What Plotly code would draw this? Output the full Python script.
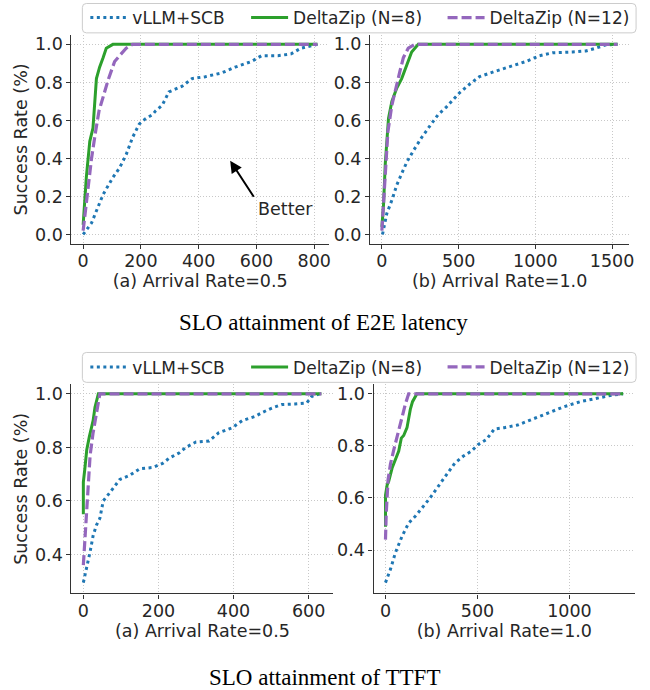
import plotly.graph_objects as go

# ---------------- data ----------------
series_names = ["vLLM+SCB", "DeltaZip (N=8)", "DeltaZip (N=12)"]

# (a) E2E latency, arrival rate 0.5
e2e_a_vllm_x = [0, 29, 69, 103, 126, 149, 171, 194, 217, 240, 251, 274, 297, 343, 377, 423, 480, 526, 583, 617, 674, 720, 754, 811]
e2e_a_vllm_y = [0.0, 0.06, 0.21, 0.30, 0.35, 0.42, 0.51, 0.58, 0.61, 0.63, 0.65, 0.68, 0.75, 0.78, 0.82, 0.83, 0.85, 0.88, 0.91, 0.94, 0.94, 0.95, 0.98, 1.0]
e2e_a_n8_x = [0, 11, 23, 34, 46, 57, 69, 80, 103, 811]
e2e_a_n8_y = [0.05, 0.30, 0.49, 0.56, 0.82, 0.88, 0.93, 0.98, 1.0, 1.0]
e2e_a_n12_x = [0, 17, 29, 43, 55, 86, 109, 126, 149, 171, 811]
e2e_a_n12_y = [0.02, 0.25, 0.40, 0.54, 0.65, 0.81, 0.91, 0.94, 0.98, 1.0, 1.0]

# (b) E2E latency, arrival rate 1.0
e2e_b_vllm_x = [4, 32, 65, 97, 129, 162, 205, 259, 312, 366, 420, 474, 506, 571, 636, 745, 853, 939, 1026, 1113, 1243, 1329, 1394, 1459, 1535]
e2e_b_vllm_y = [0.0, 0.11, 0.18, 0.26, 0.32, 0.38, 0.44, 0.51, 0.57, 0.63, 0.67, 0.72, 0.745, 0.79, 0.83, 0.86, 0.886, 0.91, 0.94, 0.956, 0.96, 0.965, 0.98, 0.997, 1.0]
e2e_b_n8_x = [0, 11, 22, 43, 65, 97, 129, 162, 194, 237, 1535]
e2e_b_n8_y = [0.04, 0.16, 0.37, 0.61, 0.70, 0.77, 0.82, 0.89, 0.96, 1.0, 1.0]
e2e_b_n12_x = [0, 17, 39, 65, 90, 118, 140, 172, 215, 1535]
e2e_b_n12_y = [0.02, 0.28, 0.54, 0.68, 0.77, 0.86, 0.93, 0.98, 1.0, 1.0]

# (a) TTFT, arrival rate 0.5
ttft_a_vllm_x = [0, 9, 18, 26, 35, 44, 53, 70, 97, 123, 150, 185, 211, 229, 256, 273, 300, 335, 361, 396, 423, 458, 476, 502, 529, 564, 595, 608, 630]
ttft_a_vllm_y = [0.295, 0.35, 0.41, 0.47, 0.51, 0.535, 0.60, 0.63, 0.68, 0.695, 0.72, 0.725, 0.74, 0.76, 0.78, 0.80, 0.82, 0.824, 0.855, 0.873, 0.90, 0.916, 0.93, 0.947, 0.96, 0.962, 0.966, 0.99, 1.0]
ttft_a_n8_x = [0, 0, 4, 9, 16, 22, 26, 31, 40, 634]
ttft_a_n8_y = [0.55, 0.67, 0.72, 0.79, 0.84, 0.87, 0.90, 0.95, 1.0, 1.0]
ttft_a_n12_x = [0, 4, 9, 13, 18, 26, 35, 44, 634]
ttft_a_n12_y = [0.36, 0.45, 0.56, 0.68, 0.77, 0.855, 0.93, 1.0, 1.0]

# (b) TTFT, arrival rate 1.0
ttft_b_vllm_x = [0, 27, 54, 90, 126, 162, 197, 242, 287, 332, 377, 422, 467, 503, 548, 592, 646, 718, 790, 880, 969, 1059, 1149, 1239, 1292]
ttft_b_vllm_y = [0.275, 0.326, 0.39, 0.453, 0.504, 0.53, 0.56, 0.60, 0.645, 0.69, 0.734, 0.76, 0.78, 0.805, 0.824, 0.865, 0.87, 0.88, 0.90, 0.926, 0.95, 0.97, 0.983, 0.996, 1.0]
ttft_b_n8_x = [0, 0, 9, 18, 36, 54, 72, 86, 99, 117, 135, 147, 171, 1292]
ttft_b_n8_y = [0.49, 0.61, 0.65, 0.665, 0.715, 0.747, 0.78, 0.83, 0.84, 0.87, 0.94, 0.97, 1.0, 1.0]
ttft_b_n12_x = [0, 4, 14, 27, 45, 63, 90, 108, 126, 1292]
ttft_b_n12_y = [0.44, 0.54, 0.67, 0.73, 0.785, 0.84, 0.91, 0.96, 1.0, 1.0]

x_titles = ["(a) Arrival Rate=0.5", "(b) Arrival Rate=1.0", "(a) Arrival Rate=0.5", "(b) Arrival Rate=1.0"]
y_title = "Success Rate (%)"
captions = ["SLO attainment of E2E latency", "SLO attainment of TTFT"]
x_ticks = [[0, 200, 400, 600, 800], [0, 500, 1000, 1500], [0, 200, 400, 600], [0, 500, 1000]]
y_ticks_top = [0.0, 0.2, 0.4, 0.6, 0.8, 1.0]
y_ticks_bottom = [0.4, 0.6, 0.8, 1.0]
annot_text = "Better"

# ---------------- styling ----------------
W, H = 650, 690
colors = ["#1f77b4", "#2ca02c", "#9467bd"]
dashes = ["3px,3.5px", "solid", "10px,4px"]
widths = [3, 3, 3.2]
TXT = "#262626"
FONT = "DejaVu Sans"
FS = 17.5
GRID = dict(showgrid=True, gridcolor="#c8c8c8", griddash="1px,2px", gridwidth=1)

panels = [
    (e2e_a_vllm_x, e2e_a_vllm_y, e2e_a_n8_x, e2e_a_n8_y, e2e_a_n12_x, e2e_a_n12_y),
    (e2e_b_vllm_x, e2e_b_vllm_y, e2e_b_n8_x, e2e_b_n8_y, e2e_b_n12_x, e2e_b_n12_y),
    (ttft_a_vllm_x, ttft_a_vllm_y, ttft_a_n8_x, ttft_a_n8_y, ttft_a_n12_x, ttft_a_n12_y),
    (ttft_b_vllm_x, ttft_b_vllm_y, ttft_b_n8_x, ttft_b_n8_y, ttft_b_n12_x, ttft_b_n12_y),
]

# pixel boxes of each axes (left, right, top, bottom)
boxes = [(72, 331.5, 33, 243), (373, 634, 33, 243), (72, 336, 384, 594), (376.5, 640, 384, 594)]
x_ranges = [[-40.5, 851], [-76.6, 1611], [-31.7, 666], [-64.6, 1357]]
y_ranges = [[-0.05, 1.05], [-0.05, 1.05], [0.2545, 1.0355], [0.2335, 1.0365]]

# legend entry positions (sample start px) and row centre px
leg_item_x = [92, 254, 452]
leg_row_y = [16, 367]
leg_boxes = [(83, 641, 1.5, 31), (83, 641, 352, 382)]

fig = go.Figure()
for i, p in enumerate(panels):
    xa = "x" if i == 0 else f"x{i+1}"
    ya = "y" if i == 0 else f"y{i+1}"
    for k in range(3):
        xs, ys = p[2 * k], p[2 * k + 1]
        show = i in (0, 2)
        row = 0 if i == 0 else 1
        lid = row * 3 + k + 1
        fig.add_trace(go.Scatter(
            x=xs, y=ys, mode="lines", name=series_names[k],
            line=dict(color=colors[k], width=widths[k], dash=dashes[k]),
            xaxis=xa, yaxis=ya, showlegend=show,
            legend="legend" if lid == 1 else f"legend{lid}",
            hoverinfo="skip",
        ))

layout = dict(
    width=W, height=H, margin=dict(l=0, r=0, t=0, b=0),
    paper_bgcolor="white", plot_bgcolor="white",
    font=dict(family=FONT, size=FS, color=TXT),
)
for i in range(4):
    l, r, t, b = boxes[i]
    xname = "xaxis" if i == 0 else f"xaxis{i+1}"
    yname = "yaxis" if i == 0 else f"yaxis{i+1}"
    ya = "y" if i == 0 else f"y{i+1}"
    xa = "x" if i == 0 else f"x{i+1}"
    layout[xname] = dict(
        domain=[l / W, r / W], range=x_ranges[i], anchor=ya,
        tickvals=x_ticks[i], **GRID,
        showline=True, linecolor="#333333", linewidth=1.3, zeroline=False,
        ticks="outside", ticklen=4, tickcolor="#333333", tickwidth=1.2,
        ticklabelstandoff=-3,
        tickfont=dict(size=FS, color=TXT),
        title=dict(text=x_titles[i], font=dict(size=FS, color=TXT), standoff=1),
    )
    layout[yname] = dict(
        domain=[1 - b / H, 1 - t / H], range=y_ranges[i], anchor=xa,
        tickvals=y_ticks_top if i < 2 else y_ticks_bottom, tickformat=".1f", **GRID,
        showline=True, linecolor="#333333", linewidth=1.3, zeroline=False,
        ticks="outside", ticklen=4, tickcolor="#333333", tickwidth=1.2,
        tickfont=dict(size=FS, color=TXT),
        title=dict(text=y_title if i in (0, 2) else "", font=dict(size=FS, color=TXT), standoff=2),
    )

for row in range(2):
    for k in range(3):
        lid = row * 3 + k + 1
        key = "legend" if lid == 1 else f"legend{lid}"
        layout[key] = dict(
            orientation="h", xref="paper", yref="paper", xanchor="left", yanchor="middle",
            x=(leg_item_x[k] - 6) / W, y=1 - leg_row_y[row] / H,
            bgcolor="rgba(0,0,0,0)", borderwidth=0,
            font=dict(family=FONT, size=17, color=TXT), itemwidth=37,
        )

# legend frames (rounded rectangles, paper coords)
shapes = []
rad = 4
for (x0, x1, y0, y1) in leg_boxes:
    rx, ry = rad / W, rad / H
    X0, X1 = x0 / W, x1 / W
    Y0, Y1 = 1 - y1 / H, 1 - y0 / H
    path = (f"M{X0+rx},{Y0} L{X1-rx},{Y0} Q{X1},{Y0} {X1},{Y0+ry} L{X1},{Y1-ry} "
            f"Q{X1},{Y1} {X1-rx},{Y1} L{X0+rx},{Y1} Q{X0},{Y1} {X0},{Y1-ry} "
            f"L{X0},{Y0+ry} Q{X0},{Y0} {X0+rx},{Y0} Z")
    shapes.append(dict(type="path", path=path, xref="paper", yref="paper",
                       line=dict(color="#cccccc", width=1), fillcolor="white", layer="below"))
layout["shapes"] = shapes

annotations = [
    dict(text=captions[0], x=326 / W, y=1 - 322 / H, xref="paper", yref="paper",
         showarrow=False, font=dict(family="Liberation Serif", size=23, color="black"),
         xanchor="center", yanchor="middle"),
    dict(text=captions[1], x=327 / W, y=1 - 678 / H, xref="paper", yref="paper",
         showarrow=False, font=dict(family="Liberation Serif", size=23, color="black"),
         xanchor="center", yanchor="middle"),
    dict(text="", x=509, y=0.388, ax=594, ay=0.19, xref="x", yref="y", axref="x", ayref="y",
         showarrow=True, arrowhead=2, arrowsize=1.2, arrowwidth=2, arrowcolor="black"),
    dict(text=annot_text, x=700, y=0.132, xref="x", yref="y", showarrow=False,
         font=dict(size=FS, color=TXT), xanchor="center", yanchor="middle"),
]
layout["annotations"] = annotations
fig.update_layout(**layout)
fig.write_html("out.html", config={"displayModeBar": False},
               post_script="document.body.style.margin='0';")
